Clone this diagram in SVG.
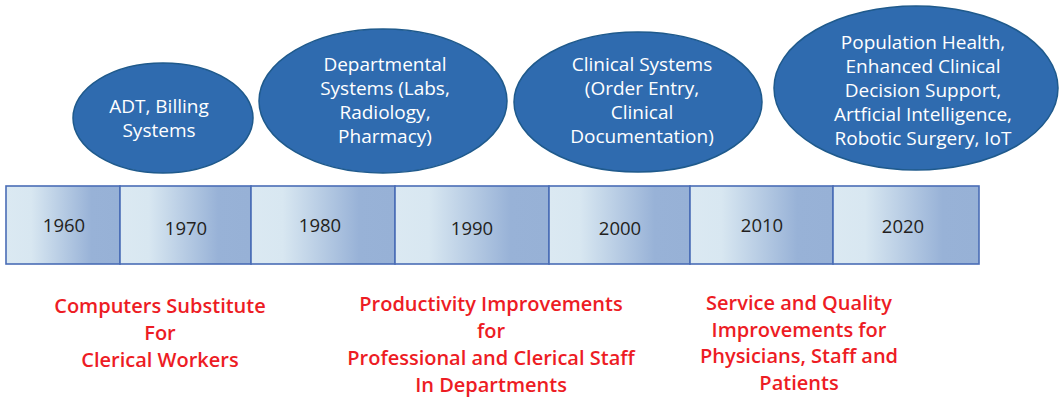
<svg xmlns="http://www.w3.org/2000/svg" width="1060" height="399" viewBox="0 0 1060 399">
  <style>
    .ell { fill: #2f6baf; stroke: #1f5a8c; stroke-width: 1.5; }
    .et { font-family: "Open Sans", "Liberation Sans", sans-serif; font-size: 19px; fill: #ffffff; text-anchor: middle; }
    .seg { fill: url(#segGrad); stroke: #4a6db6; stroke-width: 1.6; }
    .yr { font-family: "Open Sans", "Liberation Sans", sans-serif; font-size: 18.5px; fill: #231f20; text-anchor: middle; }
    .rt { font-family: "Open Sans", "Liberation Sans", sans-serif; font-size: 20px; font-weight: 600; fill: #ed1c24; text-anchor: middle; }
  </style>
  <defs>
    <linearGradient id="segGrad" x1="0" y1="0" x2="1" y2="0">
      <stop offset="0" stop-color="#dbe9f2"/>
      <stop offset="0.22" stop-color="#d8e7f1"/>
      <stop offset="0.75" stop-color="#98b2d7"/>
      <stop offset="1" stop-color="#97b1d6"/>
    </linearGradient>
  </defs>

  <g id="timeline">
    <g id="seg-1960"><rect class="seg" x="6" y="186" width="114" height="78"/><text class="yr" x="64" y="232">1960</text></g>
    <g id="seg-1970"><rect class="seg" x="120" y="186" width="131" height="78"/><text class="yr" x="186" y="235">1970</text></g>
    <g id="seg-1980"><rect class="seg" x="251" y="186" width="144" height="78"/><text class="yr" x="320" y="232">1980</text></g>
    <g id="seg-1990"><rect class="seg" x="395" y="186" width="154" height="78"/><text class="yr" x="472" y="235">1990</text></g>
    <g id="seg-2000"><rect class="seg" x="549" y="186" width="141" height="78"/><text class="yr" x="620" y="235">2000</text></g>
    <g id="seg-2010"><rect class="seg" x="690" y="186" width="143" height="78"/><text class="yr" x="762" y="232">2010</text></g>
    <g id="seg-2020"><rect class="seg" x="833" y="186" width="146" height="78"/><text class="yr" x="903" y="233">2020</text></g>
  </g>

  <g id="connectors"></g>

  <g id="node-adt">
    <ellipse class="ell" cx="163" cy="118" rx="90" ry="55"/>
    <text class="et" x="159" y="112.5">ADT, Billing</text>
    <text class="et" x="159" y="136.5">Systems</text>
  </g>
  <g id="node-departmental">
    <ellipse class="ell" cx="383" cy="101" rx="124" ry="72"/>
    <text class="et" x="385" y="71">Departmental</text>
    <text class="et" x="385" y="95">Systems (Labs,</text>
    <text class="et" x="385" y="119">Radiology,</text>
    <text class="et" x="385" y="143">Pharmacy)</text>
  </g>
  <g id="node-clinical">
    <ellipse class="ell" cx="638" cy="102" rx="124" ry="70"/>
    <text class="et" x="642" y="71">Clinical Systems</text>
    <text class="et" x="642" y="95">(Order Entry,</text>
    <text class="et" x="642" y="119">Clinical</text>
    <text class="et" x="642" y="143">Documentation)</text>
  </g>
  <g id="node-population">
    <ellipse class="ell" cx="916" cy="88" rx="142" ry="82"/>
    <text class="et" x="923" y="49">Population Health,</text>
    <text class="et" x="923" y="73">Enhanced Clinical</text>
    <text class="et" x="923" y="97">Decision Support,</text>
    <text class="et" x="923" y="121">Artficial Intelligence,</text>
    <text class="et" x="923" y="145">Robotic Surgery, IoT</text>
  </g>

  <g id="label-clerical">
    <text class="rt" x="160" y="313">Computers Substitute</text>
    <text class="rt" x="160" y="340">For</text>
    <text class="rt" x="160" y="367">Clerical Workers</text>
  </g>
  <g id="label-productivity">
    <text class="rt" x="491" y="311">Productivity Improvements</text>
    <text class="rt" x="491" y="338">for</text>
    <text class="rt" x="491" y="365">Professional and Clerical Staff</text>
    <text class="rt" x="491" y="392">In Departments</text>
  </g>
  <g id="label-service">
    <text class="rt" x="799" y="310">Service and Quality</text>
    <text class="rt" x="799" y="337">Improvements for</text>
    <text class="rt" x="799" y="363">Physicians, Staff and</text>
    <text class="rt" x="799" y="390">Patients</text>
  </g>
</svg>
